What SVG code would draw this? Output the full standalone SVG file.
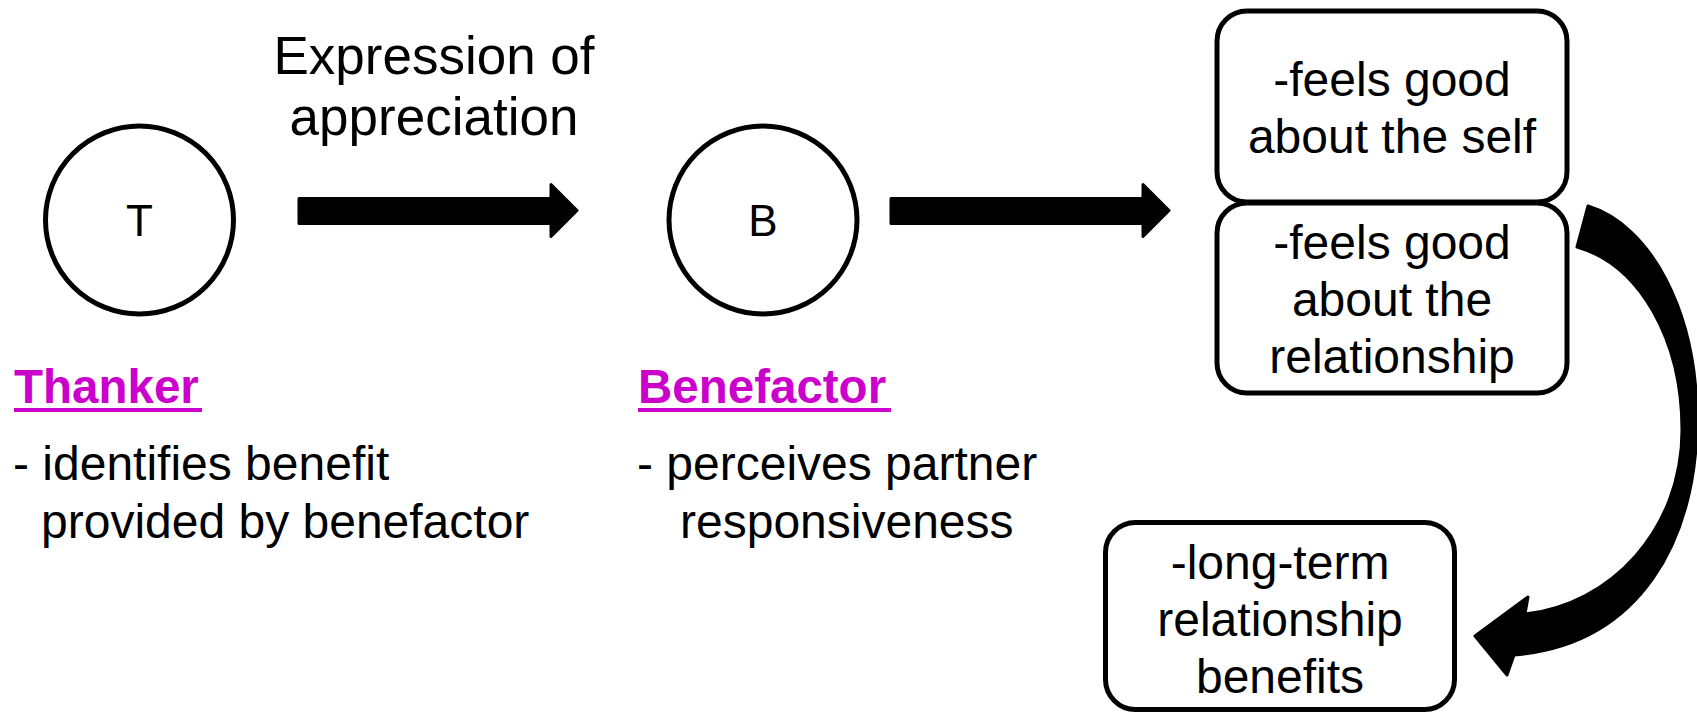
<svg xmlns="http://www.w3.org/2000/svg" width="1697" height="714" viewBox="0 0 1697 714">
<style>
.t{font-family:"Liberation Sans",Arial,sans-serif;fill:#000}
.b{font-size:48px}
.h{font-family:"Liberation Sans",Arial,sans-serif;font-weight:bold;font-size:47.5px;fill:#CC00CC}
.node{fill:#fff;stroke:#000;stroke-width:5}
.arr{fill:#000;stroke:#000;stroke-width:3;stroke-linejoin:round}
</style>
<rect width="1697" height="714" fill="#fff"/>
<g id="connectors">
<path class="arr" d="M299,198.5 H551 V184.5 L577,210.5 L551,236.5 V223.5 H299 Z"/>
<path class="arr" d="M891,198.5 H1143 V184.5 L1169,210.5 L1143,236.5 V223.5 H891 Z"/>
<path class="arr" d="M1588,206 C1650,225 1697,310 1697,420 C1697,540 1640,645 1514,655 L1507,675 L1475,636 L1528,597 L1525,614 C1610,605 1682,530 1682,430 C1682,340 1640,265 1577,247 Z"/>
</g>
<g id="label-expression">
<text class="t" font-size="53" text-anchor="middle" x="434" y="74">Expression of</text>
<text class="t" font-size="53" text-anchor="middle" x="434" y="135">appreciation</text>
</g>
<g id="node-T">
<circle class="node" cx="139.5" cy="220" r="94"/>
<text class="t" font-size="44" text-anchor="middle" x="139.5" y="236">T</text>
</g>
<g id="node-B">
<circle class="node" cx="763" cy="220" r="94"/>
<text class="t" font-size="44" text-anchor="middle" x="763" y="236">B</text>
</g>
<g id="thanker">
<text class="h" x="14" y="403">Thanker</text>
<rect x="14" y="408" width="188" height="4" fill="#CC00CC"/>
<text class="t b" x="13" y="480">- identifies benefit</text>
<text class="t b" x="41" y="538">provided by benefactor</text>
</g>
<g id="benefactor">
<text class="h" x="638" y="403">Benefactor</text>
<rect x="638" y="408" width="253" height="4" fill="#CC00CC"/>
<text class="t b" x="637" y="480">- perceives partner</text>
<text class="t b" x="680" y="538">responsiveness</text>
</g>
<g id="box-self">
<rect class="node" x="1217" y="11" width="350" height="191" rx="30"/>
<text class="t b" text-anchor="middle" x="1392" y="96">-feels good</text>
<text class="t b" text-anchor="middle" x="1392" y="153">about the self</text>
</g>
<g id="box-relationship">
<rect class="node" x="1217" y="203" width="350" height="190" rx="30"/>
<text class="t b" text-anchor="middle" x="1392" y="259">-feels good</text>
<text class="t b" text-anchor="middle" x="1392" y="316">about the</text>
<text class="t b" text-anchor="middle" x="1392" y="373">relationship</text>
</g>
<g id="box-longterm">
<rect class="node" x="1105.5" y="522.5" width="349" height="187" rx="30"/>
<text class="t b" text-anchor="middle" x="1280" y="579">-long-term</text>
<text class="t b" text-anchor="middle" x="1280" y="636">relationship</text>
<text class="t b" text-anchor="middle" x="1280" y="693">benefits</text>
</g>
</svg>
